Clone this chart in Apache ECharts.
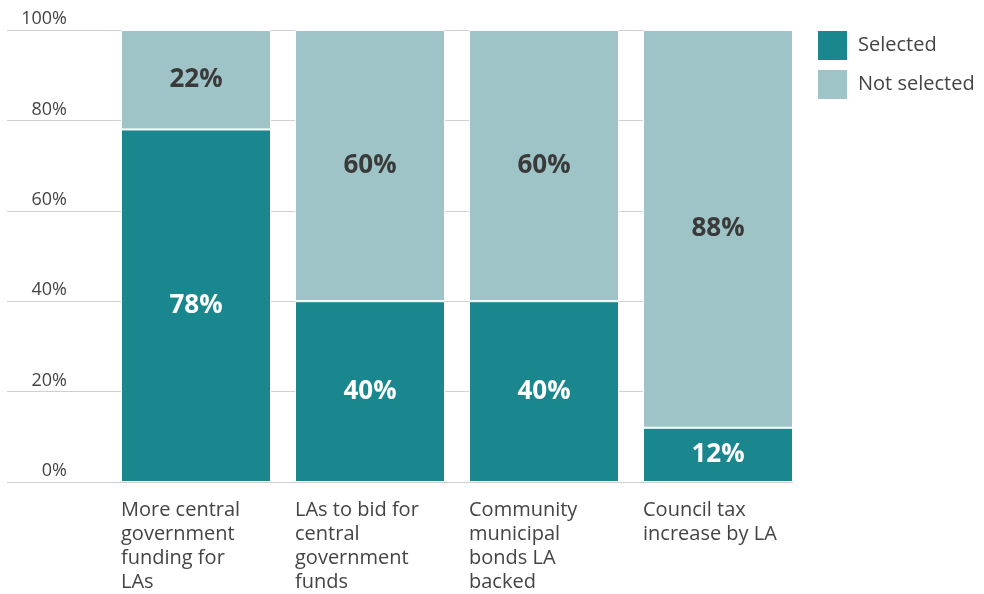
<!DOCTYPE html>
<html>
<head>
<meta charset="utf-8">
<script src="https://cdn.jsdelivr.net/npm/echarts@6/dist/echarts.min.js"></script>
<style>
  html, body { margin: 0; padding: 0; background: #fff; }
  #chart { width: 984px; height: 594px; }
</style>
</head>
<body>
<div id="chart"></div>
<script>
// Funding options: share of respondents who selected each one
const categories = [
  'More central\ngovernment\nfunding for\nLAs',
  'LAs to bid for\ncentral\ngovernment\nfunds',
  'Community\nmunicipal\nbonds LA\nbacked',
  'Council tax\nincrease by LA'
];
const selected = [78, 40, 40, 12];
const notSelected = [22, 60, 60, 88];
const seriesNames = ['Selected', 'Not selected'];
const yTicks = [0, 20, 40, 60, 80, 100];

const FONT = 'Open Sans';
const DARK = '#1A868D';
const LIGHT = '#9EC4C7';
const TEXT = '#444';

const chart = echarts.init(document.getElementById('chart'), null, { renderer: 'canvas' });

const valueLabel = (color) => ({
  show: true,
  position: 'inside',
  formatter: (p) => p.value + '%',
  color: color,
  fontFamily: FONT,
  fontWeight: 'bold',
  fontSize: 26
});

chart.setOption({
  animation: false,
  backgroundColor: '#fff',
  legend: {
    data: seriesNames,
    orient: 'vertical',
    left: 816,
    top: 29,
    padding: 0,
    itemWidth: 31,
    itemHeight: 31,
    itemGap: 6,
    icon: 'rect',
    textStyle: { fontFamily: FONT, fontSize: 20, color: TEXT, padding: [0, 0, 0, 5] },
    selectedMode: false
  },
  grid: [
    // bars
    { left: 109, right: 179, top: 30, bottom: 112 },
    // full-width gridlines and value labels
    { left: 7, right: 191, top: 30, bottom: 112 }
  ],
  xAxis: [
    {
      type: 'category',
      gridIndex: 0,
      data: categories,
      axisLine: { show: false },
      axisTick: { show: false },
      axisLabel: {
        interval: 0,
        margin: 16,
        formatter: (v) => v.split('\n').map(s => '{a|' + s + '}').join('\n'),
        rich: {
          a: {
            width: 150,
            align: 'left',
            fontFamily: FONT,
            fontSize: 20,
            lineHeight: 24,
            color: TEXT
          }
        }
      }
    },
    { type: 'value', gridIndex: 1, show: false, min: 0, max: 1 }
  ],
  yAxis: [
    { type: 'value', gridIndex: 0, min: 0, max: 100, interval: 20, show: false },
    {
      type: 'value',
      gridIndex: 1,
      min: 0,
      max: 100,
      interval: 20,
      axisLine: { show: false },
      axisTick: { show: false },
      splitLine: { lineStyle: { color: '#d0d0d0', width: 1.2 } },
      axisLabel: {
        inside: true,
        margin: 60,
        align: 'right',
        verticalAlign: 'bottom',
        padding: [0, 0, 2, 0],
        fontFamily: FONT,
        fontSize: 18,
        color: TEXT,
        formatter: (v) => (yTicks.indexOf(v) >= 0 ? v + '%' : '')
      },
      z: 0
    }
  ],
  series: [
    {
      name: seriesNames[0],
      type: 'bar',
      stack: 'total',
      xAxisIndex: 0,
      yAxisIndex: 0,
      barWidth: 150,
      data: selected,
      itemStyle: { color: DARK, borderColor: '#fff', borderWidth: 1 },
      label: valueLabel('#fff'),
      z: 3
    },
    {
      name: seriesNames[1],
      type: 'bar',
      stack: 'total',
      xAxisIndex: 0,
      yAxisIndex: 0,
      barWidth: 150,
      data: notSelected,
      itemStyle: { color: LIGHT, borderColor: '#fff', borderWidth: 1 },
      label: valueLabel('#3a3a3a'),
      z: 3
    }
  ]
});
</script>
</body>
</html>
